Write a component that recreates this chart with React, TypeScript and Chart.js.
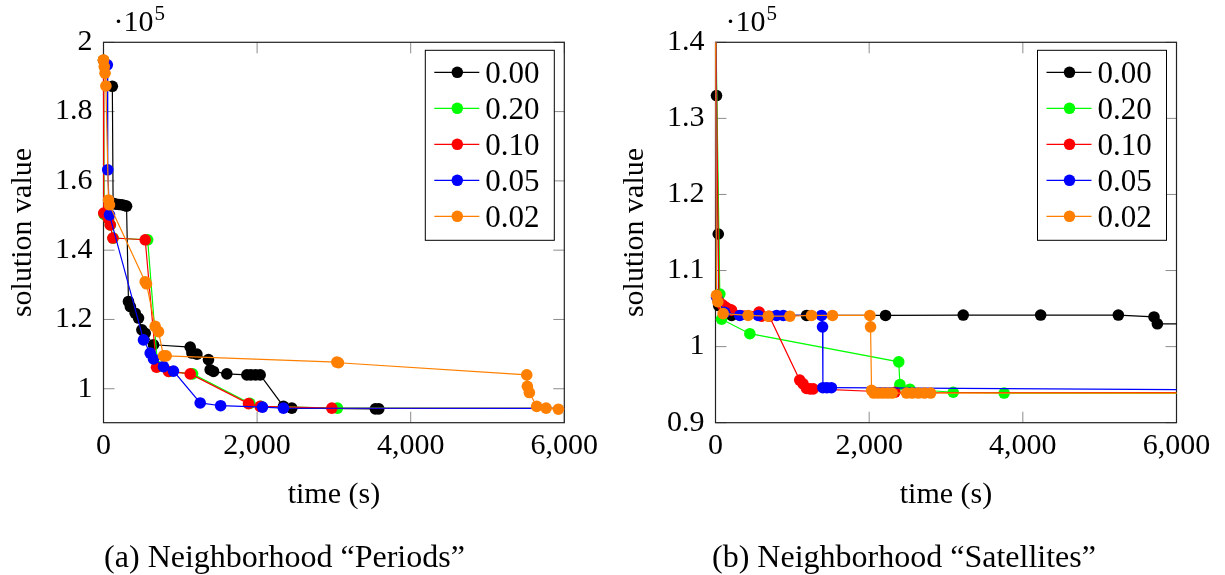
import React, { useEffect, useRef } from 'react';
import { Chart, registerables } from 'chart.js';

Chart.register(...registerables);

const FONT = "'Liberation Serif', 'Times New Roman', serif";

const seriesLabels = ['0.00', '0.20', '0.10', '0.05', '0.02'];
const seriesColors = ['#000000', '#00ff00', '#ff0000', '#0000ff', '#ff8000'];

const timeTickValues = [0, 2000, 4000, 6000];
const timeTickLabels = ['0', '2,000', '4,000', '6,000'];

const periodsValueTicks = [100000, 120000, 140000, 160000, 180000, 200000];
const periodsValueTickLabels = ['1', '1.2', '1.4', '1.6', '1.8', '2'];
const satellitesValueTicks = [90000, 100000, 110000, 120000, 130000, 140000];
const satellitesValueTickLabels = ['0.9', '1', '1.1', '1.2', '1.3', '1.4'];

// ---------- Neighborhood "Periods" ----------
const periodsTime000 = [115, 125, 160, 200, 240, 275, 300, 325, 350, 413, 456, 500, 543, 651, 1129, 1151, 1216, 1367, 1389, 1432, 1606, 1867, 1920, 1980, 2040, 2343, 2452, 3540, 3585];
const periodsValue000 = [187300, 153500, 153300, 153200, 153100, 152900, 152700, 125200, 123700, 121800, 120400, 117000, 116000, 112700, 112000, 110300, 110000, 108400, 105500, 105000, 104300, 104000, 104000, 104000, 104000, 94900, 94400, 94200, 94200];

const periodsTime020 = [0, 8, 65, 90, 125, 575, 705, 855, 1160, 1905, 2050, 3046, 8000];
const periodsValue020 = [194800, 150300, 149000, 147300, 143500, 143000, 106400, 105000, 104300, 95800, 94900, 94400, 94300];

const periodsTime010 = [0, 3, 65, 87, 122, 543, 690, 847, 1129, 1888, 2040, 2973, 8000];
const periodsValue010 = [194800, 150700, 149000, 147300, 143500, 143000, 106200, 105000, 104300, 95700, 94900, 94400, 94300];

const periodsTime005 = [50, 55, 78, 521, 608, 651, 781, 911, 1259, 1525, 2070, 2343, 8000];
const periodsValue005 = [193500, 163200, 150200, 114100, 110300, 108600, 106400, 105100, 95900, 95100, 94700, 94400, 94300];

const periodsTime002 = [0, 10, 20, 31, 65, 78, 543, 560, 673, 716, 781, 816, 3038, 3060, 5511, 5519, 5545, 5641, 5763, 5923, 8000];
const periodsValue002 = [194900, 193000, 191100, 187400, 154500, 153100, 130900, 130300, 118000, 116500, 109500, 109500, 107700, 107500, 104000, 100700, 98900, 94900, 94400, 94100, 93900];

// ---------- Neighborhood "Satellites" ----------
const satellitesTime000 = [13, 36, 42, 210, 1185, 2213, 3224, 4232, 5243, 5707, 5751, 8000];
const satellitesValue000 = [133000, 114800, 105400, 104100, 104100, 104100, 104150, 104150, 104150, 103900, 103000, 103000];

const satellitesTime020 = [0, 56, 78, 447, 2385, 2400, 2530, 3094, 3757, 8000];
const satellitesValue020 = [145000, 106900, 103600, 101700, 98000, 95000, 94400, 94000, 93900, 93900];

const satellitesTime010 = [0, 45, 90, 130, 180, 208, 568, 600, 700, 1096, 1140, 1185, 1230, 1272, 2336, 8000];
const satellitesValue010 = [145000, 105900, 105500, 105200, 104900, 104800, 104550, 104000, 104000, 95600, 95100, 94500, 94450, 94450, 94000, 93950];

const satellitesTime005 = [0, 15, 120, 317, 556, 795, 882, 1380, 1393, 1398, 1450, 1508, 8000];
const satellitesValue005 = [145000, 106500, 104500, 104100, 104100, 104100, 104100, 104100, 102600, 94600, 94600, 94600, 94250];

const satellitesTime002 = [0, 13, 30, 99, 425, 686, 968, 1250, 1523, 2009, 2018, 2031, 2060, 2120, 2180, 2240, 2300, 2487, 2560, 2640, 2720, 2800, 8000];
const satellitesValue002 = [145000, 106750, 105900, 104340, 104100, 104000, 104000, 104100, 104100, 104100, 102600, 94250, 93900, 93900, 93900, 93900, 93900, 93900, 93900, 93900, 93900, 93900, 93900];

type PanelConfig = {
  caption: string;
  captionX: number;
  width: number;
  padRight: number;
  yMin: number;
  yMax: number;
  yTicks: number[];
  yTickLabels: string[];
  times: number[][];
  values: number[][];
};

const periodsPanel: PanelConfig = {
  caption: '(a) Neighborhood \u201CPeriods\u201D',
  captionX: 284.5,
  width: 612,
  padRight: 47.7,
  yMin: 90200,
  yMax: 200000,
  yTicks: periodsValueTicks,
  yTickLabels: periodsValueTickLabels,
  times: [periodsTime000, periodsTime020, periodsTime010, periodsTime005, periodsTime002],
  values: [periodsValue000, periodsValue020, periodsValue010, periodsValue005, periodsValue002],
};

const satellitesPanel: PanelConfig = {
  caption: '(b) Neighborhood \u201CSatellites\u201D',
  captionX: 292,
  width: 613,
  padRight: 48.5,
  yMin: 90000,
  yMax: 140000,
  yTicks: satellitesValueTicks,
  yTickLabels: satellitesValueTickLabels,
  times: [satellitesTime000, satellitesTime020, satellitesTime010, satellitesTime005, satellitesTime002],
  values: [satellitesValue000, satellitesValue020, satellitesValue010, satellitesValue005, satellitesValue002],
};

const MARK_R = 5.8;

function makeDecor(cfg: PanelConfig) {
  return {
    id: 'decor',
    beforeDatasetsDraw(chart: any) {
      const { ctx, chartArea: a, scales } = chart;
      ctx.save();
      ctx.strokeStyle = '#8c8c8c';
      ctx.lineWidth = 1;
      const tl = 11;
      ctx.beginPath();
      for (const v of timeTickValues) {
        const x = scales.x.getPixelForValue(v);
        ctx.moveTo(x, a.bottom);
        ctx.lineTo(x, a.bottom - tl);
        ctx.moveTo(x, a.top);
        ctx.lineTo(x, a.top + tl);
      }
      for (const v of cfg.yTicks) {
        const y = scales.y.getPixelForValue(v);
        ctx.moveTo(a.left, y);
        ctx.lineTo(a.left + tl, y);
        ctx.moveTo(a.right, y);
        ctx.lineTo(a.right - tl, y);
      }
      ctx.stroke();
      ctx.strokeStyle = '#222';
      ctx.lineWidth = 1.2;
      ctx.strokeRect(a.left, a.top, a.right - a.left, a.bottom - a.top);
      ctx.restore();
    },
    afterDraw(chart: any) {
      const { ctx, chartArea: a } = chart;
      ctx.save();
      // legend
      const lw = 129;
      const lh = 190;
      const lx = a.right - 10 - lw;
      const ly = a.top + 8;
      ctx.fillStyle = '#fff';
      ctx.fillRect(lx, ly, lw, lh);
      ctx.strokeStyle = '#000';
      ctx.lineWidth = 1;
      ctx.strokeRect(lx, ly, lw, lh);
      seriesLabels.forEach((lab, i) => {
        const cy = ly + 22 + 36 * i;
        ctx.strokeStyle = seriesColors[i];
        ctx.lineWidth = 1.2;
        ctx.beginPath();
        ctx.moveTo(lx + 9, cy);
        ctx.lineTo(lx + 54, cy);
        ctx.stroke();
        ctx.fillStyle = seriesColors[i];
        ctx.beginPath();
        ctx.arc(lx + 32, cy, MARK_R, 0, Math.PI * 2);
        ctx.fill();
        ctx.fillStyle = '#000';
        ctx.font = `31px ${FONT}`;
        ctx.textAlign = 'left';
        ctx.textBaseline = 'alphabetic';
        ctx.fillText(lab, lx + 60, cy + 10.5);
      });
      // exponent
      ctx.fillStyle = '#000';
      ctx.font = `30px ${FONT}`;
      ctx.textAlign = 'left';
      ctx.textBaseline = 'alphabetic';
      const base = '\u00B710';
      ctx.fillText(base, a.left + 10, 31);
      const bw = ctx.measureText(base).width;
      ctx.font = `21px ${FONT}`;
      ctx.fillText('5', a.left + 10 + bw + 1, 20);
      // caption
      ctx.font = `32px ${FONT}`;
      ctx.textAlign = 'center';
      ctx.fillText(cfg.caption, cfg.captionX, 567);
      ctx.restore();
    },
  };
}

function Panel({ cfg, left }: { cfg: PanelConfig; left: number }) {
  const ref = useRef<HTMLCanvasElement>(null);
  useEffect(() => {
    const datasets = seriesLabels.map((label, i) => ({
      label,
      data: cfg.times[i].map((t, j) => ({ x: t, y: cfg.values[i][j] })),
      showLine: true,
      borderColor: seriesColors[i],
      backgroundColor: seriesColors[i],
      pointBackgroundColor: seriesColors[i],
      pointBorderColor: seriesColors[i],
      pointBorderWidth: 0,
      pointRadius: MARK_R,
      pointHoverRadius: MARK_R,
      borderWidth: 1.2,
      tension: 0,
      order: 4 - i,
      clip: { left: 8, top: 0, right: 0, bottom: 8 },
    }));
    const chart = new Chart(ref.current as HTMLCanvasElement, {
      type: 'scatter',
      data: { datasets },
      options: {
        animation: false,
        responsive: false,
        devicePixelRatio: 1,
        events: [],
        layout: { padding: { left: 0, top: 42.3, right: cfg.padRight, bottom: 62.1 } },
        plugins: { legend: { display: false }, tooltip: { enabled: false } },
        scales: {
          x: {
            type: 'linear',
            min: 0,
            max: 6000,
            grid: { display: false, drawTicks: false },
            border: { display: false },
            afterBuildTicks: (scale: any) => {
              scale.ticks = timeTickValues.map((v) => ({ value: v }));
            },
            afterFit: (scale: any) => {
              scale.height = 90.2;
            },
            ticks: {
              padding: 5,
              color: '#000',
              maxRotation: 0,
              autoSkip: false,
              font: { family: FONT, size: 30 },
              callback: (_v: any, i: number) => timeTickLabels[i],
            },
            title: {
              display: true,
              text: 'time (s)',
              color: '#000',
              font: { family: FONT, size: 30 },
              padding: { top: 0, bottom: 0 },
            },
          },
          y: {
            type: 'linear',
            min: cfg.yMin,
            max: cfg.yMax,
            grid: { display: false, drawTicks: false },
            border: { display: false },
            afterBuildTicks: (scale: any) => {
              scale.ticks = cfg.yTicks.map((v) => ({ value: v }));
            },
            afterFit: (scale: any) => {
              scale.width = 103.5;
            },
            ticks: {
              padding: 11,
              color: '#000',
              autoSkip: false,
              font: { family: FONT, size: 30 },
              callback: (_v: any, i: number) => cfg.yTickLabels[i],
            },
            title: {
              display: true,
              text: 'solution value',
              color: '#000',
              font: { family: FONT, size: 30 },
              padding: { top: 5, bottom: 0 },
            },
          },
        },
      } as any,
      plugins: [makeDecor(cfg)],
    });
    return () => chart.destroy();
  }, [cfg]);
  return (
    <canvas
      ref={ref}
      width={cfg.width}
      height={575}
      style={{ position: 'absolute', left, top: 0, width: cfg.width, height: 575 }}
    />
  );
}

export default function App() {
  return (
    <div style={{ position: 'absolute', left: 0, top: 0, width: 1225, height: 575, background: '#fff', overflow: 'hidden' }}>
      <Panel cfg={periodsPanel} left={0} />
      <Panel cfg={satellitesPanel} left={612} />
    </div>
  );
}
